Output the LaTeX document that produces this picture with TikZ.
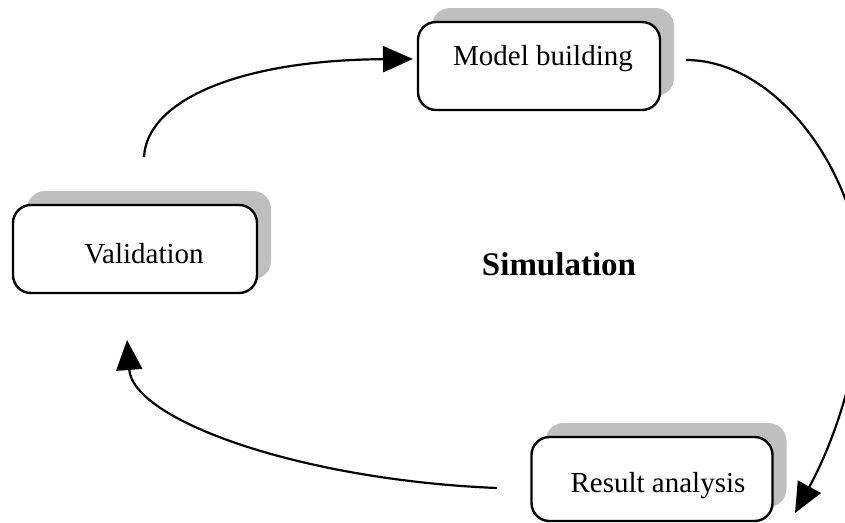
\documentclass[tikz,border=0pt]{standalone}
\usepackage{fontspec}
\setmainfont{Liberation Serif}
\usetikzlibrary{arrows.meta,shadows}

\tikzset{
  stagebox/.style={rectangle, rounded corners=18pt, draw=black, line width=2.4pt,
    fill=white, minimum height=88pt, inner sep=0pt,
    general shadow={fill=gray!50, shadow xshift=14pt, shadow yshift=14pt}},
  stagetext/.style={anchor=base, inner sep=0pt, font=\fontsize{29pt}{34pt}\selectfont},
  flow/.style={line width=2.2pt, -{Triangle[length=30pt,width=26pt]}}
}

\begin{document}
\begin{tikzpicture}[x=1pt, y=-1pt]
  \useasboundingbox (0,0) rectangle (845,522);
  \clip (0,0) rectangle (845,522);

  % the three stages of the cycle
  \node[stagebox, minimum width=242pt] (model) at (539,66) {};
  \node[stagebox, minimum width=244pt] (valid) at (135,249) {};
  \node[stagebox, minimum width=241pt, minimum height=84pt] (result) at (652,479) {};

  \node[stagetext] (modeltxt) at (543,65) {Model building};
  \node[stagetext] (validtxt) at (144,263) {Validation};
  \node[stagetext] (resulttxt) at (658,492) {Result analysis};

  \node[anchor=base, inner sep=0pt, font=\fontsize{33pt}{38pt}\selectfont\bfseries]
    (sim) at (559,275) {Simulation};

  % connector end points
  \coordinate (vstart) at (144,157);
  \coordinate (mend) at (413,59);
  \coordinate (mstart) at (686,60);
  \coordinate (rside) at (862,285);
  \coordinate (rend) at (795,513);
  \coordinate (rstart) at (497,488);
  \coordinate (vend) at (127,340);

  % validation -> model building
  \draw[flow] (vstart) .. controls (147,100) and (240,60) .. (mend);
  % model building -> result analysis
  \draw[line width=2.2pt] (mstart) .. controls (780,60) and (862,180) .. (rside);
  \draw[flow] (rside) .. controls (862,360) and (835,440) .. (rend);
  % result analysis -> validation
  \draw[flow] (rstart) .. controls (300,480) and (133,420) .. (vend);
\end{tikzpicture}
\end{document}
